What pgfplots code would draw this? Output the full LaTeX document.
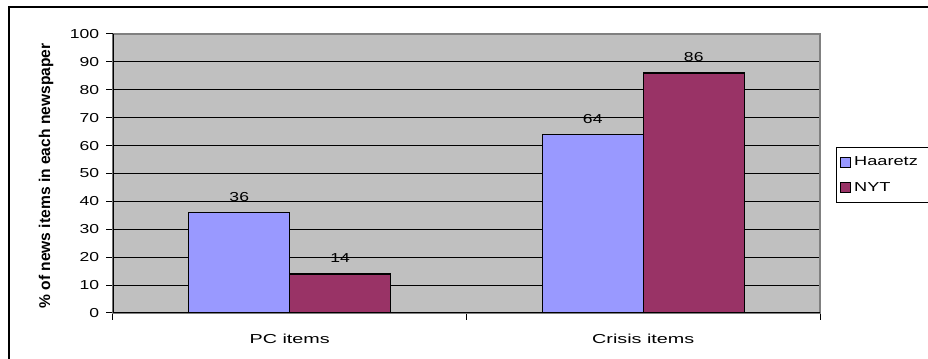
\documentclass[border=0pt]{standalone}
\usepackage{fontspec}
\setmainfont{Liberation Sans}
\usepackage{graphicx}
\usepackage{pgfplots}
\pgfplotsset{compat=1.18}
\definecolor{plotgray}{HTML}{C0C0C0}
\definecolor{hblue}{HTML}{9999FF}
\definecolor{nytred}{HTML}{993366}
\definecolor{bordergray}{HTML}{808080}
\newcommand{\sx}[1]{\scalebox{1.4}[1]{#1}}
\begin{document}
\fontsize{9.75}{11.7}\selectfont
\begin{tikzpicture}
\useasboundingbox (0,0) rectangle (696pt,269.25pt);
\draw[line width=1.1pt] (6.75pt,-10pt) -- (6.75pt,264pt) -- (710pt,264pt);
\begin{axis}[
  /pgf/number format/assume math mode=true,
  at={(84.75pt,34.5pt)}, anchor=south west,
  scale only axis, width=530.25pt, height=209.25pt,
  xmin=-0.5, xmax=1.5, ymin=0, ymax=100,
  ybar=0pt, bar width=0.2857,
  axis background/.style={fill=plotgray},
  axis line style={draw=bordergray, line width=0.9pt},
  ytick={0,10,...,90}, extra y ticks={100}, extra y tick style={grid=none},
  ymajorgrids, grid style={black, line width=0.75pt},
  tick align=outside, ytick pos=left, xtick pos=bottom,
  major tick length=5pt,
  tick style={black, line width=0.75pt},
  tick label style={font=\fontsize{9.75}{11.7}\selectfont},
  yticklabel={\scalebox{1.35}[1]{\pgfmathprintnumber{\tick}}},
  yticklabel style={xshift=-2pt},
  xtick={-0.5,0.5,1.5}, xticklabels={},
  extra x ticks={0,1}, extra x tick labels={\scalebox{1.52}[1]{PC items},\scalebox{1.52}[1]{Crisis items}},
  extra x tick style={tick style={draw=none}, xticklabel style={yshift=-7pt}},
  nodes near coords={\scalebox{1.35}[1]{\pgfmathprintnumber{\pgfplotspointmeta}}},
  every node near coord/.append style={anchor=south, inner sep=0pt, yshift=8pt, black, font=\fontsize{9.75}{11.7}\selectfont},
  ylabel={\fontsize{11.7}{14}\selectfont\bfseries \% of news items in each newspaper},
  ylabel style={at={(axis description cs:-0.0948,0.491)}, anchor=center},
  legend style={at={(1.0226,0.595)}, anchor=north west, draw=black, line width=0.75pt,
    inner xsep=3pt, inner ysep=5pt, row sep=7pt, font=\fontsize{9.75}{11.7}\selectfont},
  legend cell align=left,
  every axis plot post/.append style={legend image code/.code={\draw[#1, line width=0.75pt] (0pt,-3.75pt) rectangle (7.5pt,3.75pt);}},
]
\addplot[fill=hblue, draw=black, line width=0.9pt] coordinates {(0,36) (1,64)};
\addlegendentry{\makebox[56pt][l]{\sx{Haaretz}}}
\addplot[fill=nytred, draw=black, line width=0.9pt] coordinates {(0,14) (1,86)};
\addlegendentry{\makebox[56pt][l]{\sx{NYT}}}
\draw[black, line width=1.1pt] (rel axis cs:0,1) -- (rel axis cs:0,0) -- (rel axis cs:1,0);
\end{axis}
\end{tikzpicture}
\end{document}
